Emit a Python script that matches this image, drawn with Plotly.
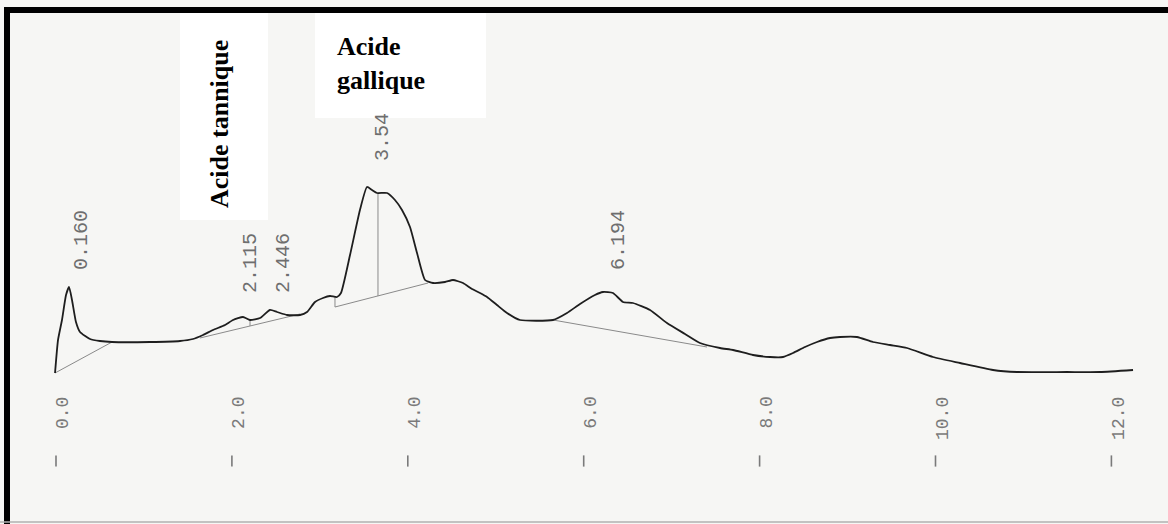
import plotly.graph_objects as go

# Chromatogram trace (retention time in min, detector signal in arbitrary units)
time_min = [-0.011, 0.023, 0.068, 0.114, 0.148, 0.182, 0.227, 0.273, 0.387, 0.500,
            0.637, 1.069, 1.410, 1.558, 1.672, 1.785, 1.922, 2.013, 2.126, 2.206,
            2.320, 2.433, 2.513, 2.627, 2.774, 2.854, 2.945, 3.036, 3.115, 3.195,
            3.240, 3.343, 3.456, 3.536, 3.593, 3.650, 3.764, 3.854, 3.934, 4.025,
            4.105, 4.196, 4.287, 4.423, 4.514, 4.628, 4.730, 4.821, 4.901, 5.014,
            5.128, 5.276, 5.651, 5.810, 5.958, 6.128, 6.219, 6.333, 6.447, 6.560,
            6.754, 6.947, 7.152, 7.322, 7.550, 7.698, 7.925, 8.118, 8.266, 8.380,
            8.516, 8.653, 8.801, 8.914, 9.107, 9.289, 9.483, 9.676, 9.972, 10.279,
            10.654, 10.927, 11.495, 11.870, 12.246]
signal = [7, 40, 60, 85, 93, 80, 58, 48, 41, 39,
          38, 38, 39, 41, 45, 50, 55, 60, 63, 60,
          62, 70, 68, 65, 65, 68, 78, 82, 84, 83,
          87, 125, 170, 193, 190, 187, 187, 180, 170, 153,
          127, 100, 97, 98, 100, 97, 91, 87, 83, 75,
          67, 60, 60, 67, 76, 85, 88, 87, 78, 77,
          70, 57, 46, 37, 32, 30, 25, 23, 23, 27,
          33, 38, 42, 43, 43, 38, 35, 32, 23, 17,
          10, 8, 8, 8, 10]

# Integration baselines / drop lines: (t0, s0, t1, s1)
baselines = [
    (-0.011, 7, 0.637, 38),
    (1.637, 42, 2.774, 66),
    (2.206, 60, 2.206, 54),
    (3.172, 83, 3.172, 73),
    (3.172, 73, 4.230, 97),
    (3.661, 187, 3.661, 84),
    (5.651, 60, 7.402, 33),
]

# Peak retention-time labels: (text, t position, signal position of label bottom)
peak_labels = [("0.160", 0.285, 108), ("2.115", 2.206, 85), ("2.446", 2.580, 85),
               ("3.54", 3.707, 217), ("6.194", 6.390, 108)]

tick_vals = [0, 2, 4, 6, 8, 10, 12]
tick_text = ["0.0", "2.0", "4.0", "6.0", "8.0", "10.0", "12.0"]

PAPER = "#f6f6f4"
GREY = "#7a7a7a"

fig = go.Figure()

for (t0, s0, t1, s1) in baselines:
    fig.add_trace(go.Scatter(x=[t0, t1], y=[s0, s1], mode="lines",
                             line=dict(color="#8a8a8a", width=1), hoverinfo="skip",
                             showlegend=False))

fig.add_trace(go.Scatter(x=time_min, y=signal, mode="lines",
                         line=dict(color="#1e1e1e", width=1.8, shape="spline", smoothing=0.5),
                         showlegend=False))

# tick marks
fig.add_trace(go.Scatter(x=tick_vals, y=[-81] * len(tick_vals), mode="markers",
                         marker=dict(symbol="line-ns", size=8, line=dict(color=GREY, width=1.6)),
                         hoverinfo="skip", showlegend=False))

annotations = []
for v, txt in zip(tick_vals, tick_text):
    annotations.append(dict(x=v, y=-15, xref="x", yref="y", text=txt, textangle=-90,
                            showarrow=False, xanchor="center", yanchor="top", xshift=7,
                            font=dict(family="Liberation Mono", size=18, color=GREY)))
for txt, t, s in peak_labels:
    annotations.append(dict(x=t, y=s, xref="x", yref="y", text=txt, textangle=-90,
                            showarrow=False, xanchor="center", yanchor="bottom",
                            font=dict(family="Liberation Mono", size=20, color="#6e6e6e")))

W, H = 1168, 524
def px(x):
    return x / W
def py(y):
    return 1 - y / H

annotations.append(dict(x=px(219), y=py(124), xref="paper", yref="paper",
                        text="<b>Acide tannique</b>", textangle=-90, showarrow=False,
                        xanchor="center", yanchor="middle",
                        font=dict(family="Liberation Serif", size=26, color="black")))
annotations.append(dict(x=px(335), y=py(64), xref="paper", yref="paper",
                        text="<b>Acide<br>gallique</b>", showarrow=False, align="left",
                        xanchor="left", yanchor="middle",
                        font=dict(family="Liberation Serif", size=26, color="black")))

shapes = [
    dict(type="rect", xref="paper", yref="paper", x0=px(180), x1=px(268), y0=py(220), y1=py(13),
         fillcolor="white", line=dict(width=0), layer="below"),
    dict(type="rect", xref="paper", yref="paper", x0=px(315), x1=px(486), y0=py(118), y1=py(13),
         fillcolor="white", line=dict(width=0), layer="below"),
    dict(type="rect", xref="paper", yref="paper", x0=px(4), x1=px(10), y0=0, y1=py(7),
         fillcolor="black", line=dict(width=0), layer="above"),
    dict(type="rect", xref="paper", yref="paper", x0=px(4), x1=1, y0=py(13), y1=py(7),
         fillcolor="black", line=dict(width=0), layer="above"),
    dict(type="line", xref="paper", yref="paper", x0=0, x1=1, y0=py(522), y1=py(522),
         line=dict(color="#b0b0b0", width=1.5), layer="above"),
]

fig.update_layout(
    width=W, height=H,
    margin=dict(l=0, r=0, t=0, b=0),
    paper_bgcolor=PAPER, plot_bgcolor=PAPER,
    xaxis=dict(range=[-0.6367, 12.6435], visible=False, fixedrange=True),
    yaxis=dict(range=[-144, 380], visible=False, fixedrange=True),
    annotations=annotations,
    shapes=shapes,
    showlegend=False,
)

fig.write_html("out.html")
